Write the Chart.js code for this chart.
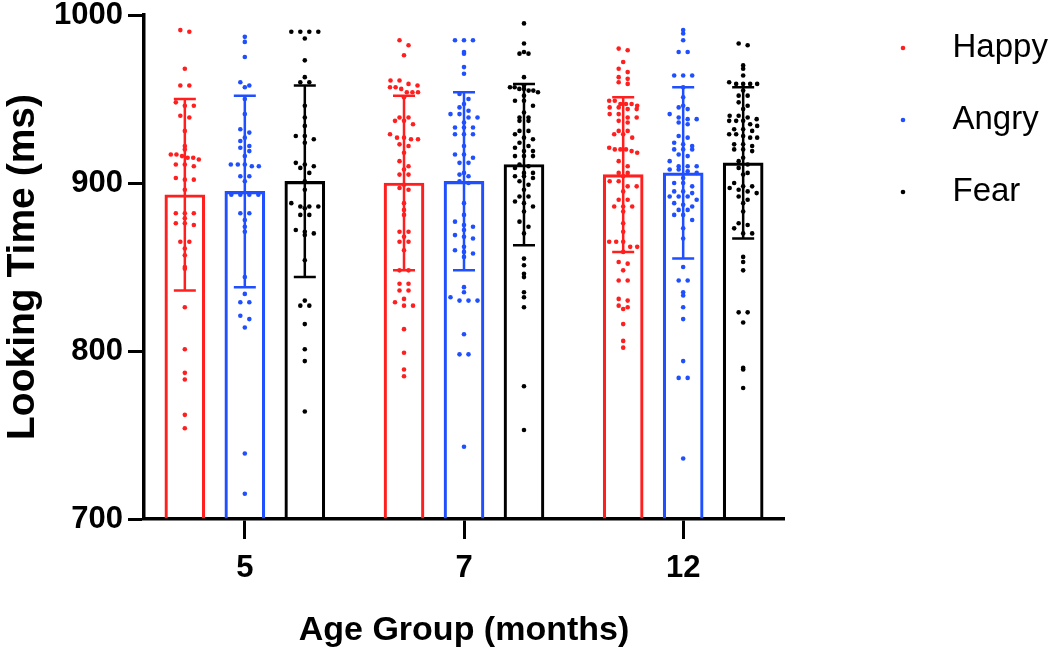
<!DOCTYPE html>
<html>
<head>
<meta charset="utf-8">
<script src="https://cdn.jsdelivr.net/npm/chart.js@4.4.1/dist/chart.umd.min.js"></script>
<style>
html,body{margin:0;padding:0;background:#fff;}
#wrap{width:1050px;height:654px;position:relative;}
</style>
</head>
<body>
<div id="wrap"><canvas id="c"></canvas></div>
<script>
// ---------------- DATA ----------------
const ageGroups = ['5', '7', '12'];
const seriesNames = ['Happy', 'Angry', 'Fear'];

const happyMeans = [893, 900, 905];
const angryMeans = [895, 901, 906];
const fearMeans  = [901, 911, 912];

const happySD = [57, 52, 46];
const angrySD = [57, 53, 51];
const fearSD  = [57, 48, 45];

const happy5 = [991, 990, 968, 958, 958, 948, 946, 946, 940, 939, 931, 922, 920, 917, 917, 916, 915, 915, 914, 911, 911, 910, 903, 902, 902, 896, 882, 882, 882, 879, 876, 876, 875, 865, 865, 861, 857, 850, 849, 826, 801, 787, 783, 762, 754];
const happy7 = [985, 982, 976, 961, 961, 959, 958, 957, 957, 956, 954, 954, 954, 951, 939, 939, 937, 937, 935, 929, 927, 927, 926, 926, 923, 922, 918, 913, 910, 908, 905, 905, 899, 897, 896, 888, 884, 881, 871, 871, 868, 865, 865, 860, 848, 848, 840, 840, 836, 836, 831, 829, 827, 827, 813, 799, 789, 785];
const happy12 = [980, 979, 972, 968, 966, 963, 962, 960, 959, 949, 949, 947, 947, 947, 946, 945, 945, 944, 944, 941, 941, 939, 939, 937, 936, 931, 931, 929, 929, 927, 921, 920, 920, 920, 919, 918, 913, 910, 906, 906, 904, 901, 901, 898, 898, 895, 890, 890, 886, 886, 886, 883, 876, 871, 865, 865, 865, 862, 862, 859, 853, 852, 848, 842, 842, 831, 830, 827, 826, 825, 816, 806, 802];

const angry5 = [987, 984, 975, 960, 958, 957, 950, 941, 932, 930, 927, 925, 922, 921, 919, 916, 911, 911, 911, 910, 910, 904, 904, 901, 893, 893, 893, 893, 882, 882, 878, 874, 871, 844, 834, 829, 829, 821, 819, 814, 739, 715];
const angry7 = [985, 985, 985, 978, 977, 969, 965, 953, 950, 947, 945, 943, 941, 941, 939, 939, 936, 933, 933, 933, 929, 929, 929, 922, 917, 917, 915, 912, 912, 906, 905, 904, 901, 900, 888, 881, 877, 875, 874, 872, 869, 868, 867, 862, 860, 859, 858, 856, 838, 835, 832, 830, 830, 830, 810, 798, 798, 743];
const angry12 = [991, 989, 985, 978, 978, 964, 964, 964, 957, 951, 946, 945, 944, 941, 939, 938, 938, 936, 935, 928, 927, 924, 923, 922, 920, 920, 920, 917, 916, 913, 910, 910, 910, 908, 908, 907, 906, 903, 900, 900, 898, 895, 895, 894, 892, 892, 892, 890, 888, 887, 886, 884, 884, 881, 881, 878, 873, 867, 850, 842, 842, 835, 833, 826, 819, 794, 784, 784, 736];

const fear5 = [990, 990, 990, 990, 986, 973, 963, 960, 960, 946, 939, 934, 928, 928, 926, 924, 912, 911, 910, 909, 906, 901, 896, 888, 886, 886, 886, 885, 881, 881, 872, 871, 870, 869, 854, 830, 827, 827, 816, 801, 794, 764];
const fear7 = [995, 983, 978, 977, 977, 963, 958, 957, 957, 956, 956, 955, 955, 954, 952, 949, 949, 946, 942, 939, 939, 937, 937, 931, 931, 929, 927, 926, 924, 922, 921, 919, 919, 916, 916, 916, 911, 910, 909, 906, 906, 904, 904, 903, 901, 899, 896, 892, 892, 889, 888, 886, 883, 877, 874, 870, 855, 851, 846, 844, 835, 832, 826, 779, 753];
const fear12 = [983, 982, 970, 968, 964, 960, 959, 959, 959, 959, 955, 952, 952, 948, 946, 944, 940, 940, 939, 938, 937, 937, 937, 935, 934, 932, 932, 931, 929, 929, 928, 927, 927, 923, 923, 922, 920, 920, 919, 915, 913, 911, 909, 906, 905, 900, 898, 898, 897, 896, 895, 894, 892, 890, 888, 883, 876, 875, 873, 870, 870, 856, 853, 848, 823, 823, 817, 790, 789, 778];

const yMin = 700, yMax = 1000, yStep = 100;

// ---------------- STYLE / LAYOUT ----------------
const FONT = "'Liberation Sans', Arial, Helvetica, sans-serif";
const colors = ['#ff1f1f', '#1f4fff', '#000000'];
const seriesShift = [-0.2737, 0, 0.2737];
const GROUP_PX = 219.2;    // approx px per x unit (used only to size swarm offsets)
const BIN = 4;             // value units per swarm row
const MAX_STEP_PX = 9;     // max horizontal spacing in a row
const ROW_SPAN_PX = 28;    // max total spread of a dense row
const CAP = 11;            // half width of error bar caps (px)
const LEGEND_W = 266;

const means = [happyMeans, angryMeans, fearMeans];
const sds = [happySD, angrySD, fearSD];
const points = [[happy5, happy7, happy12], [angry5, angry7, angry12], [fear5, fear7, fear12]];

// Beeswarm-like offsets (x units) computed from the values
function swarm(values) {
  const rows = new Map();
  values.forEach((v, i) => {
    const key = Math.round(v / BIN);
    if (!rows.has(key)) rows.set(key, []);
    rows.get(key).push(i);
  });
  const offs = new Array(values.length).fill(0);
  rows.forEach(idx => {
    const n = idx.length;
    if (n < 2) return;
    const stepPx = Math.min(MAX_STEP_PX, ROW_SPAN_PX / (n - 1));
    idx.forEach((i, k) => { offs[i] = (k - (n - 1) / 2) * stepPx / GROUP_PX; });
  });
  return offs;
}

function dotImage(color) {
  const c = document.createElement('canvas');
  c.width = 6; c.height = 6;
  const g = c.getContext('2d');
  g.fillStyle = color;
  g.beginPath(); g.arc(3, 3, 2.3, 0, Math.PI * 2); g.fill();
  return c;
}
const legendDots = colors.map(dotImage);

const datasets = [];
seriesNames.forEach((name, s) => {
  const pts = [];
  points[s].forEach((vals, g) => {
    const offs = swarm(vals);
    vals.forEach((v, i) => pts.push({ x: g + seriesShift[s] + offs[i], y: v }));
  });
  datasets.push({
    type: 'scatter', label: name, data: pts,
    backgroundColor: colors[s], borderColor: colors[s],
    pointRadius: 2.3, pointBorderWidth: 0, pointStyle: 'circle',
    order: 0
  });
});
seriesNames.forEach((name, s) => {
  datasets.push({
    type: 'bar', label: name + ' mean',
    data: means[s].map((m, g) => ({ x: g + seriesShift[s], y: m })),
    backgroundColor: 'rgba(0,0,0,0)', borderColor: colors[s],
    borderWidth: 2.5, borderSkipped: 'bottom',
    barThickness: 40, grouped: false, base: yMin,
    order: 1, seriesIndex: s
  });
});

const errorBarPlugin = {
  id: 'errorBars',
  afterDatasetDraw(chart, args) {
    const ds = chart.data.datasets[args.index];
    if (ds.type !== 'bar') return;
    const s = ds.seriesIndex;
    const xs = chart.scales.x, ys = chart.scales.y;
    const ctx = chart.ctx;
    ctx.save();
    ctx.strokeStyle = colors[s];
    ctx.lineWidth = 2.5;
    means[s].forEach((m, g) => {
      const px = xs.getPixelForValue(g + seriesShift[s]);
      const top = ys.getPixelForValue(m + sds[s][g]);
      const bot = ys.getPixelForValue(m - sds[s][g]);
      ctx.beginPath();
      ctx.moveTo(px, top); ctx.lineTo(px, bot);
      ctx.moveTo(px - CAP, top); ctx.lineTo(px + CAP, top);
      ctx.moveTo(px - CAP, bot); ctx.lineTo(px + CAP, bot);
      ctx.stroke();
    });
    ctx.restore();
  }
};

const layoutPlugin = {
  id: 'fixLayout',
  beforeLayout(chart) {
    const lg = chart.legend;
    if (lg && !lg._patched) {
      const origFit = lg.fit;
      lg.fit = function () { origFit.call(this); this.width = LEGEND_W; };
      lg._patched = true;
    }
  },
  afterLayout(chart) {
    const lg = chart.legend;
    if (lg) {
      lg.left = chart.chartArea.right + 47;
      lg.top = -7.5;
    }
  }
};

new Chart(document.getElementById('c'), {
  type: 'bar',
  data: { datasets },
  plugins: [errorBarPlugin, layoutPlugin],
  options: {
    responsive: true,
    maintainAspectRatio: false,
    devicePixelRatio: 1,
    animation: false,
    layout: { padding: { top: 15, left: 0, right: 0, bottom: 0 } },
    plugins: {
      tooltip: { enabled: false },
      legend: {
        position: 'right',
        align: 'start',
        labels: {
          usePointStyle: true,
          pointStyleWidth: 66,
          padding: 39,
          color: '#000',
          font: { family: FONT, size: 33 },
          filter: (item) => item.datasetIndex < 3,
          generateLabels(chart) {
            const items = Chart.defaults.plugins.legend.labels.generateLabels(chart);
            items.forEach(it => { if (it.datasetIndex < 3) it.pointStyle = legendDots[it.datasetIndex]; });
            return items;
          }
        }
      }
    },
    scales: {
      x: {
        type: 'linear',
        min: -0.46, max: 2.46,
        offset: false,
        afterBuildTicks(scale) { scale.ticks = ageGroups.map((_, i) => ({ value: i })); },
        ticks: {
          callback: (v) => ageGroups[v],
          color: '#000',
          font: { family: FONT, size: 31, weight: 'bold' },
          padding: 11, autoSkip: false, maxRotation: 0
        },
        grid: { offset: false, drawOnChartArea: false, drawTicks: true, tickLength: 20, tickWidth: 3, tickColor: '#000' },
        border: { display: true, color: '#000', width: 3.5 },
        title: {
          display: true, text: 'Age Group (months)', color: '#000',
          font: { family: FONT, size: 34, weight: 'bold' },
          padding: { top: 0, bottom: 3 }
        },
        afterFit(scale) { scale.height = 135; scale.paddingLeft = 0; scale.paddingRight = 0; }
      },
      y: {
        type: 'linear',
        min: yMin, max: yMax, beginAtZero: false,
        ticks: {
          stepSize: yStep, color: '#000',
          callback: (v) => String(v),
          font: { family: FONT, size: 31, weight: 'bold' },
          padding: 5
        },
        grid: { drawOnChartArea: false, drawTicks: true, tickLength: 16, tickWidth: 3, tickColor: '#000' },
        border: { display: true, color: '#000', width: 3.5 },
        title: {
          display: true, text: 'Looking Time (ms)', color: '#000',
          font: { family: FONT, size: 39, weight: 'bold' },
          padding: { top: 0, bottom: 0 }
        },
        afterFit(scale) { scale.width = 144; scale.paddingTop = 0; scale.paddingBottom = 0; }
      }
    }
  }
});
</script>
</body>
</html>
